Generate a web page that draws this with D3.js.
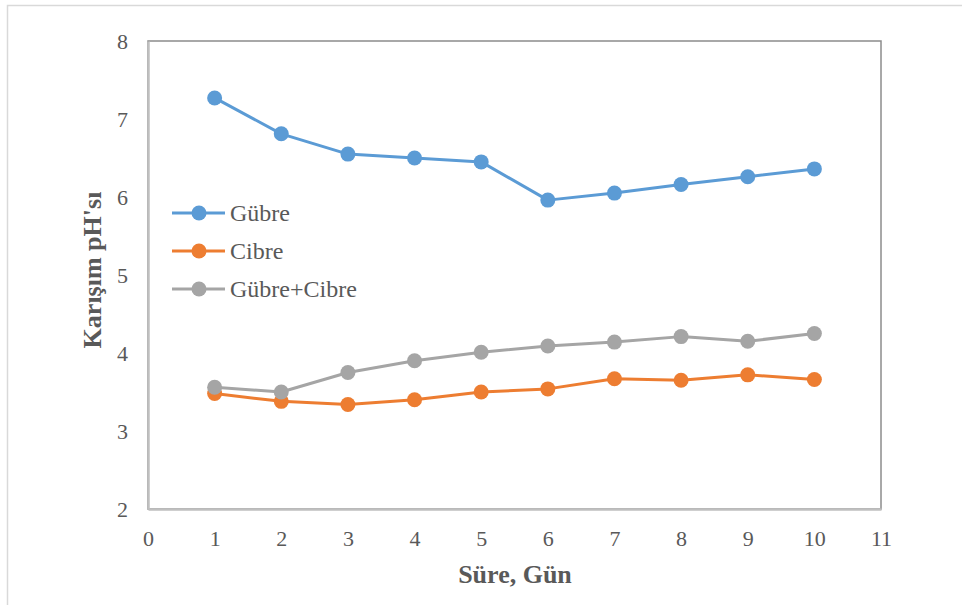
<!DOCTYPE html>
<html>
<head>
<meta charset="utf-8">
<script src="https://cdn.jsdelivr.net/npm/d3@7"></script>
<style>
  body { margin: 0; background: #fff; }
  svg { display: block; }
  svg text { font-family: "Liberation Serif", "Times New Roman", serif; }
</style>
</head>
<body>
<svg id="chart" width="962" height="605"></svg>
<script>
const days = [1, 2, 3, 4, 5, 6, 7, 8, 9, 10];
const gubre = [7.27, 6.81, 6.55, 6.50, 6.45, 5.96, 6.05, 6.16, 6.26, 6.36];
const cibre = [3.48, 3.38, 3.34, 3.40, 3.50, 3.54, 3.67, 3.65, 3.72, 3.66];
const gubreCibre = [3.56, 3.50, 3.75, 3.90, 4.01, 4.09, 4.14, 4.21, 4.15, 4.25];
const xTicks = [0, 1, 2, 3, 4, 5, 6, 7, 8, 9, 10, 11];
const yTicks = [2, 3, 4, 5, 6, 7, 8];
const seriesNames = ["Gübre", "Cibre", "Gübre+Cibre"];
const seriesColors = ["#5b9bd5", "#ed7d31", "#a5a5a5"];
const seriesValues = [gubre, cibre, gubreCibre];

const FONT = "'Liberation Serif', 'Times New Roman', serif";
const svg = d3.select("#chart");
const pLeft = 148, pRight = 881, pTop = 41, pBottom = 509;

// outer chart border
svg.append("rect").attr("x", 7.5).attr("y", 5.5).attr("width", 990).attr("height", 640)
  .attr("fill", "none").attr("stroke", "#d9d9d9").attr("stroke-width", 1.5);

const x = d3.scaleLinear().domain([0, 11]).range([pLeft, pRight]);
const y = d3.scaleLinear().domain([2, 8]).range([pBottom, pTop]);

// plot area frame
svg.append("rect").attr("x", pLeft).attr("y", pTop).attr("width", pRight - pLeft).attr("height", pBottom - pTop)
  .attr("fill", "none").attr("stroke", "#8c8c8c").attr("stroke-width", 1.5);

// axes
const xAxis = svg.append("g").attr("transform", `translate(0,${pBottom})`)
  .call(d3.axisBottom(x).tickValues(xTicks).tickSize(0).tickPadding(21).tickFormat(d3.format("d")));
const yAxis = svg.append("g").attr("transform", `translate(${pLeft},0)`)
  .call(d3.axisLeft(y).tickValues(yTicks).tickSize(0).tickPadding(20).tickFormat(d3.format("d")));
[xAxis, yAxis].forEach(g => {
  g.attr("font-family", null).attr("font-size", null);
  g.select(".domain").attr("stroke", "#bfbfbf").attr("stroke-width", 2.5);
  g.selectAll("text").attr("fill", "#595959").style("font-size", "22px").style("font-family", FONT);
});

// lines + markers
const line = d3.line().x((d, i) => x(days[i])).y(d => y(d));
seriesValues.forEach((vals, k) => {
  svg.append("path").datum(vals).attr("d", line).attr("fill", "none")
    .attr("stroke", seriesColors[k]).attr("stroke-width", 3).attr("stroke-linejoin", "round");
  svg.append("g").selectAll("circle").data(vals).join("circle")
    .attr("cx", (d, i) => x(days[i])).attr("cy", d => y(d)).attr("r", 7.5)
    .attr("fill", seriesColors[k]);
});

// legend
const legY = [213, 251, 289];
seriesNames.forEach((name, k) => {
  const g = svg.append("g");
  g.append("line").attr("x1", 172).attr("x2", 225).attr("y1", legY[k]).attr("y2", legY[k])
    .attr("stroke", seriesColors[k]).attr("stroke-width", 3);
  g.append("circle").attr("cx", 199).attr("cy", legY[k]).attr("r", 7.5).attr("fill", seriesColors[k]);
  g.append("text").attr("x", 230).attr("y", legY[k] + 8).text(name)
    .attr("fill", "#595959").style("font-size", "24px").style("font-family", FONT);
});

// axis titles
svg.append("text").attr("x", 515).attr("y", 583).attr("text-anchor", "middle")
  .attr("fill", "#595959").style("font-size", "26px").style("font-weight", "bold")
  .style("font-family", FONT).text("Süre, Gün");
svg.append("text").attr("transform", `translate(101,270) rotate(-90)`)
  .attr("text-anchor", "middle").attr("fill", "#595959").style("font-size", "26px")
  .style("font-weight", "bold").style("font-family", FONT).text("Karışım pH'sı");
</script>
</body>
</html>
